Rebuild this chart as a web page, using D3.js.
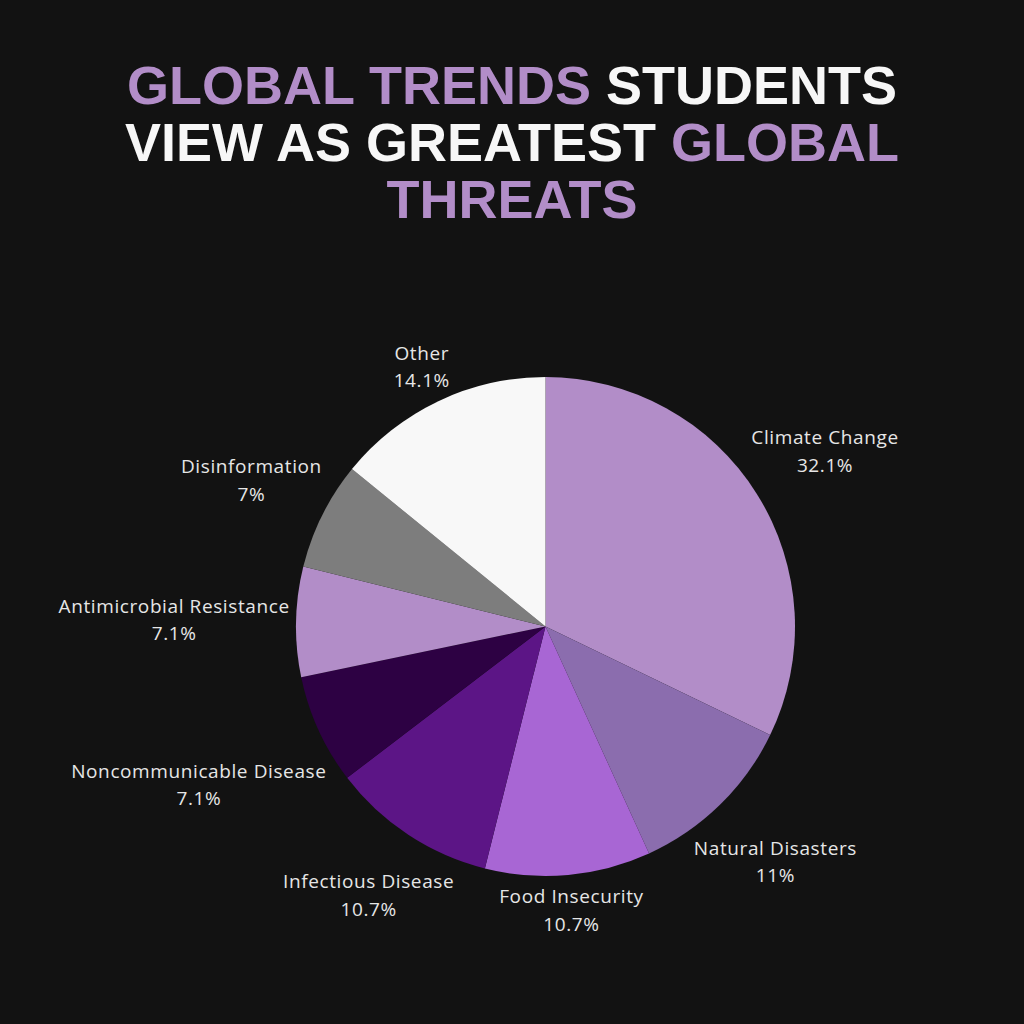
<!DOCTYPE html>
<html><head><meta charset="utf-8">
<script src="https://cdn.jsdelivr.net/npm/d3@7"></script>
<style>html,body{margin:0;padding:0;background:#121212;}</style>
</head><body>
<svg id="c" width="1024" height="1024"></svg>
<script>
const categories = ["Climate Change","Natural Disasters","Food Insecurity","Infectious Disease","Noncommunicable Disease","Antimicrobial Resistance","Disinformation","Other"];
const values = [32.1, 11, 10.7, 10.7, 7.1, 7.1, 7, 14.1];
const valueLabels = ["32.1%","11%","10.7%","10.7%","7.1%","7.1%","7%","14.1%"];
const colors = ["#b28dc8","#8b6dae","#a866d4","#5c1586","#2d0143","#b28dc8","#7d7d7d","#f8f8f8"];
const titleLines = [
  [["GLOBAL TRENDS ", true], ["STUDENTS", false]],
  [["VIEW AS GREATEST ", false], ["GLOBAL", true]],
  [["THREATS", true]]
];

const svg = d3.select("#c");
svg.append("rect").attr("width",1024).attr("height",1024).attr("fill","#121212");

// Title
const title = svg.append("g");
titleLines.forEach((line,i)=>{
  const t = title.append("text")
    .attr("x",512).attr("y",104 + i*57)
    .attr("text-anchor","middle")
    .attr("font-family","'Liberation Sans', Arial, sans-serif")
    .attr("font-weight","bold").attr("font-size",54);
  line.forEach(([s,p])=>{
    t.append("tspan").text(s).attr("fill", p ? "#b28dc8" : "#f7f7f7");
  });
});

const cx = 545.5, cy = 626.5, R = 249.5, gap = 6;
const g = svg.append("g").attr("transform",`translate(${cx},${cy})`);
const pie = d3.pie().sort(null).value(d=>d);
const arcs = pie(values);
const arc = d3.arc().innerRadius(0).outerRadius(R);
g.selectAll("path").data(arcs).enter().append("path")
  .attr("d",arc).attr("fill",(d,i)=>colors[i]);

// Labels
const lineH = 27.5, fs = 19;
arcs.forEach((d,i)=>{
  const a = (d.startAngle + d.endAngle)/2;
  const ux = Math.sin(a), uy = -Math.cos(a);
  const t = g.append("text")
    .attr("text-anchor","middle")
    .attr("font-family","'Open Sans', 'Noto Sans', sans-serif")
    .attr("font-size",fs).attr("letter-spacing","0.6px").attr("fill","#e6e6e6");
  t.append("tspan").attr("x",0).attr("dy",0).text(categories[i]);
  t.append("tspan").attr("x",0).attr("dy",lineH).text(valueLabels[i]);
  const bb = t.node().getBBox();
  const w = bb.width, h = bb.height * 0.85;
  const dist = R + gap + Math.abs(ux)*w/2 + Math.abs(uy)*h/2;
  const lx = ux*dist, ly = uy*dist;
  const offY = -(bb.y + bb.height/2);
  t.attr("transform",`translate(${lx},${ly + offY})`);
});
</script>
</body></html>
